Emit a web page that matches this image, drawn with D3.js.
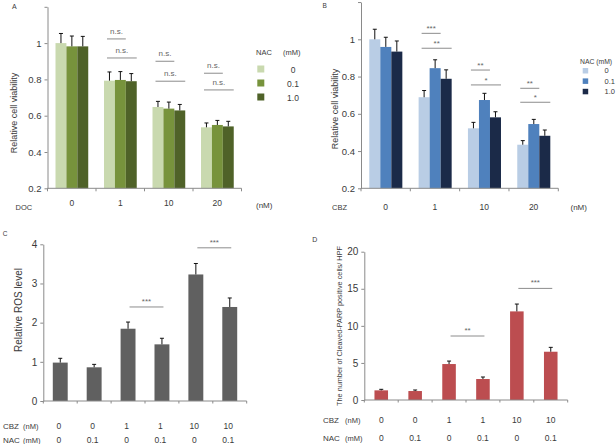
<!DOCTYPE html>
<html>
<head>
<meta charset="utf-8">
<script src="https://cdn.jsdelivr.net/npm/d3@7"></script>
<style>
  body { margin: 0; background: #fff; }
  svg { display: block; font-family: "Liberation Sans", Arial, sans-serif; }
</style>
</head>
<body>
<div id="chart"></div>
<script>
// ---- data ----
const doseLabels = ["0", "1", "10", "20"]
const nacLevels = ["0", "0.1", "1.0"]

// A: DOC x NAC, relative cell viability
const docMean = [[1.0, 0.982, 0.982], [0.793, 0.797, 0.79], [0.648, 0.639, 0.629], [0.536, 0.549, 0.541]]
const docErr = [[0.053, 0.057, 0.055], [0.048, 0.046, 0.042], [0.031, 0.036, 0.033], [0.024, 0.025, 0.028]]
const docSig = [
    { dose: "1", to: 1, label: "n.s.", at: 1.023 }, { dose: "1", to: 2, label: "n.s.", at: 0.918 },
    { dose: "10", to: 1, label: "n.s.", at: 0.90 }, { dose: "10", to: 2, label: "n.s.", at: 0.79 },
    { dose: "20", to: 1, label: "n.s.", at: 0.834 }, { dose: "20", to: 2, label: "n.s.", at: 0.742 }
]

// B: CBZ x NAC, relative cell viability
const cbzMean = [[1.0, 0.959, 0.934], [0.689, 0.845, 0.788], [0.522, 0.674, 0.581], [0.434, 0.545, 0.482]]
const cbzErr = [[0.054, 0.052, 0.057], [0.036, 0.045, 0.048], [0.032, 0.036, 0.03], [0.022, 0.025, 0.031]]
const cbzSig = [
    { dose: "1", to: 1, label: "***", at: 1.032 }, { dose: "1", to: 2, label: "**", at: 0.952 },
    { dose: "10", to: 1, label: "**", at: 0.835 }, { dose: "10", to: 2, label: "*", at: 0.755 },
    { dose: "20", to: 1, label: "**", at: 0.737 }, { dose: "20", to: 2, label: "*", at: 0.662 }
]
const viabilityTicks = [0.2, 0.4, 0.6, 0.8, 1, 1.2]

// C and D share the treatment layout
const cbzRow = ["0", "0", "1", "1", "10", "10"]
const nacRow = ["0", "0.1", "0", "0.1", "0", "0.1"]

const rosMean = [0.98, 0.86, 1.845, 1.446, 3.23, 2.4]
const rosErr = [0.11, 0.075, 0.17, 0.155, 0.28, 0.23]
const rosSig = [{ from: 2, to: 3, label: "***", at: 2.4 }, { from: 4, to: 5, label: "***", at: 3.91 }]
const rosTicks = [0, 1, 2, 3, 4]

const parpMean = [1.3, 1.21, 4.85, 2.83, 11.95, 6.51]
const parpErr = [0.14, 0.14, 0.4, 0.27, 0.99, 0.59]
const parpSig = [{ from: 2, to: 3, label: "**", at: 8.63 }, { from: 4, to: 5, label: "***", at: 15.05 }]
const parpTicks = [0, 5, 10, 15, 20]

const axisColor = "#8a8a8a"
const textColor = "#3a3a3a"

const svg = d3.select("#chart").append("svg")
    .attr("width", 616)
    .attr("height", 444)

svg.append("rect").attr("width", 616).attr("height", 444).attr("fill", "#fff")

function styleAxis(g, size) {
    g.select(".domain").attr("stroke", axisColor)
    g.selectAll(".tick line").attr("stroke", axisColor)
    g.selectAll(".tick text").attr("fill", textColor).attr("font-size", size).attr("font-family", "Liberation Sans, Arial, sans-serif")
}

function label(txt, x, y, size, opts = {}) {
    return svg.append("text")
        .attr("x", x).attr("y", y)
        .attr("font-size", size)
        .attr("fill", opts.fill || textColor)
        .attr("text-anchor", opts.anchor || "start")
        .text(txt)
}

function yLabel(txt, x, y, size) {
    svg.append("text")
        .attr("transform", `translate(${x},${y}) rotate(-90)`)
        .attr("text-anchor", "middle")
        .attr("dy", "0.35em")
        .attr("font-size", size)
        .attr("fill", textColor)
        .text(txt)
}

function errorBar(g, cx, yTop, yEnd, cap) {
    g.append("line").attr("x1", cx).attr("x2", cx).attr("y1", yTop).attr("y2", yEnd)
        .attr("stroke", "#111").attr("stroke-width", 1)
    g.append("line").attr("x1", cx - cap).attr("x2", cx + cap).attr("y1", yEnd).attr("y2", yEnd)
        .attr("stroke", "#111").attr("stroke-width", 1)
}

function sigMark(g, x1, x2, y, txt, lift) {
    g.append("line").attr("x1", x1).attr("x2", x2).attr("y1", y).attr("y2", y)
        .attr("stroke", "#8c8c8c").attr("stroke-width", 1)
    g.append("text").attr("x", (x1 + x2) / 2).attr("y", y - lift)
        .attr("text-anchor", "middle").attr("font-size", 8).attr("fill", "#666")
        .text(txt)
}

// grouped panels (A, B)
function groupedPanel(cfg) {
    const g = svg.append("g")
    const x = d3.scaleBand().domain(doseLabels).range(cfg.xRange)
    const bw = x.bandwidth()
    const x1 = d3.scaleBand().domain(nacLevels).range([bw * cfg.inner[0], bw * cfg.inner[1]])
    const y = d3.scaleLinear().domain([0.2, 1.2]).range(cfg.yRange)
    const color = d3.scaleOrdinal().domain(nacLevels).range(cfg.colors)

    const groups = g.selectAll(".grp").data(doseLabels).enter().append("g")
        .attr("transform", d => `translate(${x(d)},0)`)

    groups.selectAll("rect")
        .data((d, i) => nacLevels.map((n, j) => ({ n, v: cfg.mean[i][j], e: cfg.err[i][j] })))
        .enter().append("rect")
        .attr("x", d => x1(d.n))
        .attr("width", x1.bandwidth())
        .attr("y", d => y(d.v))
        .attr("height", d => y(0.2) - y(d.v))
        .attr("fill", d => color(d.n))

    groups.each(function (d, i) {
        nacLevels.forEach((n, j) => {
            errorBar(d3.select(this), x1(n) + x1.bandwidth() / 2, y(cfg.mean[i][j]), y(cfg.mean[i][j] + cfg.err[i][j]), 2)
        })
    })

    // y axis
    const ya = g.append("g").attr("transform", `translate(${cfg.xRange[0]},0)`)
        .call(d3.axisLeft(y).tickValues(viabilityTicks).tickSize(3).tickSizeOuter(0).tickPadding(3)
            .tickFormat(d => d === 1.2 ? "" : String(+d.toFixed(1))))
    styleAxis(ya, 9.5)

    // x axis line + boundary ticks
    const base = y(0.2)
    g.append("line").attr("x1", cfg.xRange[0]).attr("x2", cfg.xRange[1]).attr("y1", base).attr("y2", base)
        .attr("stroke", axisColor)
    const bounds = doseLabels.map(d => x(d)).concat([cfg.xRange[1]])
    g.selectAll(".bt").data(bounds).enter().append("line")
        .attr("x1", d => d).attr("x2", d => d).attr("y1", base).attr("y2", base + 3)
        .attr("stroke", axisColor)
    g.selectAll(".xl").data(doseLabels).enter().append("text")
        .attr("x", d => x(d) + bw / 2)
        .attr("y", cfg.catY)
        .attr("text-anchor", "middle").attr("font-size", 8.5).attr("fill", textColor)
        .text(d => d)

    cfg.sig.forEach(s => {
        const x0 = x(s.dose) + x1(nacLevels[0]) + cfg.sigStart
        const xe = x(s.dose) + x1(nacLevels[s.to]) + x1.bandwidth()
        sigMark(g, x0, xe, y(s.at), s.label, s.label === "n.s." ? 5 : 2)
    })

    return { x, y }
}

groupedPanel({
    xRange: [47.5, 241.5], yRange: [188.3, 6.8], inner: [0.165, 0.84],
    mean: docMean, err: docErr, sig: docSig, sigStart: 3,
    colors: ["#c9d9af", "#77933c", "#4f6228"], catY: 206
})
groupedPanel({
    xRange: [361, 558.3], yRange: [188.3, 2.05], inner: [0.168, 0.838],
    mean: cbzMean, err: cbzErr, sig: cbzSig, sigStart: 3,
    colors: ["#b9cde5", "#4f81bd", "#1b2a48"], catY: 209.5
})

// A labels and legend
label("A", 12, 8.5, 7)
yLabel("Relative cell viability", 13.5, 113, 9)
label("DOC", 15.5, 209.5, 7.5)
label("(nM)", 256, 208, 8)
label("NAC", 256, 55, 7.5)
label("(mM)", 283, 55, 7.5)
const legA = svg.append("g")
legA.selectAll("rect").data(nacLevels).enter().append("rect")
    .attr("x", 257.3).attr("y", (d, i) => 65.5 + i * 14).attr("width", 7).attr("height", 7)
    .attr("fill", (d, i) => ["#c9d9af", "#77933c", "#4f6228"][i])
legA.selectAll("text").data(nacLevels).enter().append("text")
    .attr("x", 293).attr("y", (d, i) => 73 + i * 14)
    .attr("text-anchor", "middle").attr("font-size", 8.5).attr("fill", textColor)
    .text(d => d)

// B labels and legend
label("B", 322.5, 7.5, 6.5)
yLabel("Relative cell viability", 335, 109, 9)
label("CBZ", 332, 210, 7.5)
label("(nM)", 570.5, 209.5, 8)
label("NAC (mM)", 580, 64.3, 6.8)
const legB = svg.append("g")
legB.selectAll("rect").data(nacLevels).enter().append("rect")
    .attr("x", 582.7).attr("y", (d, i) => 68 + i * 10.4).attr("width", 5.5).attr("height", 5.5)
    .attr("fill", (d, i) => ["#b9cde5", "#4f81bd", "#1b2a48"][i])
legB.selectAll("text").data(nacLevels).enter().append("text")
    .attr("x", 604.5).attr("y", (d, i) => 73.2 + i * 10.4)
    .attr("font-size", 7.5).attr("fill", textColor)
    .text(d => d)

// simple panels (C, D)
function simplePanel(cfg) {
    const g = svg.append("g")
    const idx = d3.range(cfg.mean.length)
    const x = d3.scaleBand().domain(idx).range(cfg.xRange).paddingInner(cfg.pad).paddingOuter(cfg.pad / 2)
    const bw = x.bandwidth()
    const y = d3.scaleLinear().domain(cfg.yDomain).range(cfg.yRange)

    g.selectAll("rect").data(idx).enter().append("rect")
        .attr("x", i => x(i))
        .attr("width", bw)
        .attr("y", i => y(cfg.mean[i]))
        .attr("height", i => y(0) - y(cfg.mean[i]))
        .attr("fill", cfg.color)

    idx.forEach(i => errorBar(g, x(i) + bw / 2, y(cfg.mean[i]), y(cfg.mean[i] + cfg.err[i]), 2))

    const ya = g.append("g").attr("transform", `translate(${cfg.xRange[0]},0)`)
        .call(d3.axisLeft(y).tickValues(cfg.ticks).tickSize(3).tickSizeOuter(0).tickPadding(3).tickFormat(d3.format("d")))
    styleAxis(ya, 10)

    const base = y(0)
    g.append("line").attr("x1", cfg.xRange[0]).attr("x2", cfg.xRange[1]).attr("y1", base).attr("y2", base)
        .attr("stroke", axisColor)
    const half = x.step() * cfg.pad / 2
    const bounds = idx.map(i => x(i) - half).concat([cfg.xRange[1]])
    g.selectAll(".bt").data(bounds).enter().append("line")
        .attr("x1", d => d).attr("x2", d => d).attr("y1", base).attr("y2", base + 2.5)
        .attr("stroke", axisColor)

    g.selectAll(".r1").data(cbzRow).enter().append("text")
        .attr("x", (d, i) => x(i) + bw / 2 + cfg.labelShift).attr("y", cfg.rowY[0])
        .attr("text-anchor", "middle").attr("font-size", 8.5).attr("fill", textColor)
        .text(d => d)
    g.selectAll(".r2").data(nacRow).enter().append("text")
        .attr("x", (d, i) => x(i) + bw / 2 + cfg.labelShift).attr("y", cfg.rowY[1])
        .attr("text-anchor", "middle").attr("font-size", 8.5).attr("fill", textColor)
        .text(d => d)

    cfg.sig.forEach(s => {
        sigMark(g, x(s.from) + bw / 2 + 1.5, x(s.to) + bw / 2 + 1.5, y(s.at), s.label, 3)
    })
}

simplePanel({
    xRange: [43.3, 246.7], yDomain: [0, 4], yRange: [401, 244.3], pad: 0.56,
    mean: rosMean, err: rosErr, sig: rosSig, ticks: rosTicks, color: "#606060",
    rowY: [428.5, 442.5], labelShift: -1.5
})
simplePanel({
    xRange: [364.3, 567.7], yDomain: [0, 20], yRange: [400, 251.7], pad: 0.6,
    mean: parpMean, err: parpErr, sig: parpSig, ticks: parpTicks, color: "#bc4d50",
    rowY: [423, 440.5], labelShift: 0
})

label("C", 2.7, 236.3, 6.5)
yLabel("Relative ROS level", 18, 310, 10)
label("CBZ", 3, 428.5, 8)
label("(nM)", 23, 428.5, 7.5)
label("NAC", 3, 442.5, 8)
label("(mM)", 23, 442.5, 7.5)

label("D", 312.3, 241.7, 7)
yLabel("The number of Cleaved-PARP positive cells/ HPF", 339, 326, 7.3)
label("CBZ", 323, 423, 8)
label("(nM)", 345, 423, 7.5)
label("NAC", 323, 440.5, 8)
label("(mM)", 345, 440.5, 7.5)
</script>
</body>
</html>
